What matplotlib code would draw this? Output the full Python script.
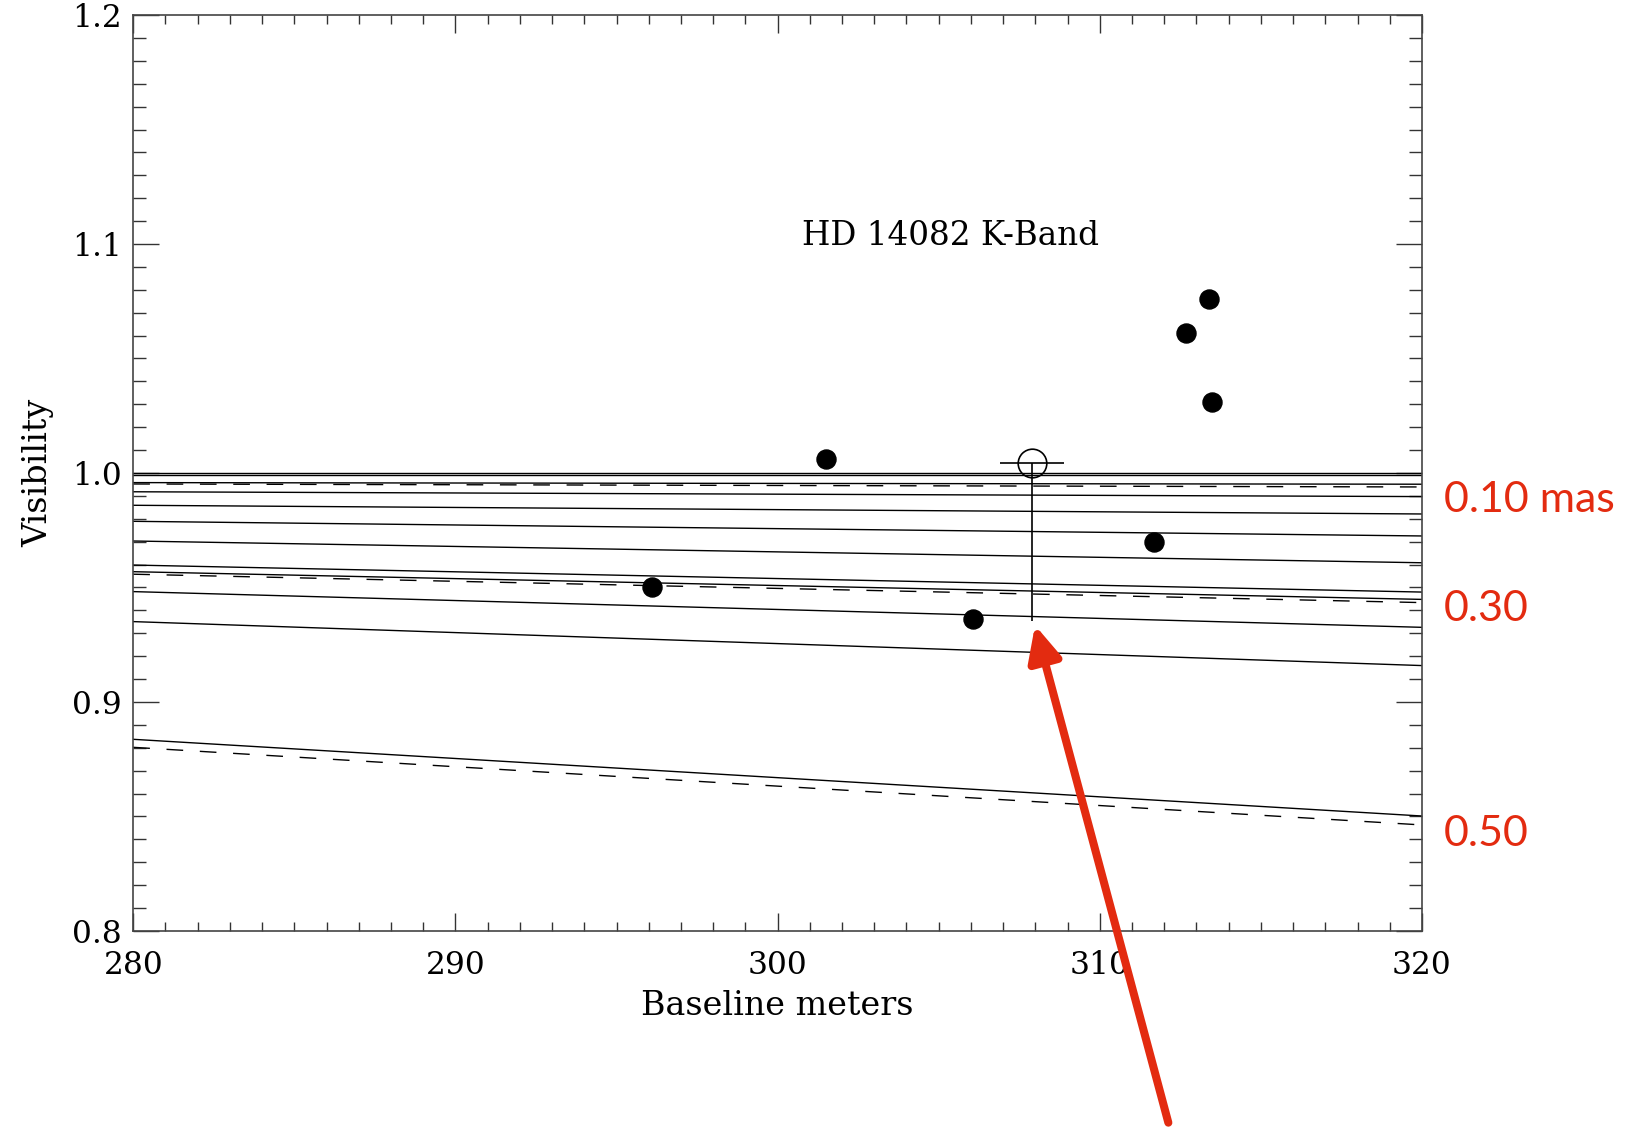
import numpy as np
import matplotlib.pyplot as plt
from matplotlib.ticker import MultipleLocator, FormatStrFormatter

# Modelos de disco uniforme: visibilidad en 280 m y 320 m
baseline_ends = [280, 320]
solid_left = [1.000, 0.999, 0.9958, 0.9918, 0.9859, 0.9789, 0.9703, 0.9598, 0.9569, 0.9482, 0.9351, 0.8837]
solid_right = [1.000, 0.999, 0.9951, 0.9897, 0.9821, 0.9725, 0.9608, 0.9480, 0.9448, 0.9326, 0.9159, 0.8502]
dashed_left = [0.9952, 0.9558, 0.8802]
dashed_right = [0.9939, 0.9434, 0.8463]

# Medidas individuales
obs_baseline = [296.09, 301.50, 306.07, 311.67, 312.67, 313.38, 313.48]
obs_vis = [0.9501, 1.0063, 0.9361, 0.9700, 1.0611, 1.0761, 1.0312]

# Promedio con barra de error
mean_baseline = 307.9
mean_vis = 1.0042
mean_xerr = 1.0
mean_yerr_low = 0.0687

size_labels = ["0.10 mas", "0.30", "0.50"]
size_label_vis = [0.9884, 0.9404, 0.8423]

red = "#e32b10"

fig = plt.figure(figsize=(16.27, 11.37), dpi=100)
ax = fig.add_axes([0.0819, 0.1812, 0.7921, 0.8056])

for a, b in zip(solid_left, solid_right):
    ax.plot(baseline_ends, [a, b], color="black", lw=1.0)
for a, b in zip(dashed_left, dashed_right):
    ax.plot(baseline_ends, [a, b], color="black", lw=1.0, dashes=(12, 12))

ax.plot(obs_baseline, obs_vis, "o", color="black", ms=13.7)
ax.errorbar(mean_baseline, mean_vis, xerr=mean_xerr, yerr=[[mean_yerr_low], [0]],
            fmt="o", mfc="none", mec="black", ms=20.6, mew=1.2,
            ecolor="black", elinewidth=1.2, capsize=0)

ax.set_xlim(280, 320)
ax.set_ylim(0.8, 1.2)
ax.xaxis.set_major_locator(MultipleLocator(10))
ax.xaxis.set_minor_locator(MultipleLocator(1))
ax.yaxis.set_major_locator(MultipleLocator(0.1))
ax.yaxis.set_minor_locator(MultipleLocator(0.01))
ax.yaxis.set_major_formatter(FormatStrFormatter("%.1f"))

ax.tick_params(axis="both", which="both", direction="in", top=True, right=True,
               width=1.0, color="#333333", labelsize=22.5)
ax.tick_params(axis="y", which="major", length=18.5, pad=8)
ax.tick_params(axis="y", which="minor", length=9.4)
ax.tick_params(axis="x", which="major", length=13, pad=14)
ax.tick_params(axis="x", which="minor", length=6.5)
for lab in ax.get_xticklabels() + ax.get_yticklabels():
    lab.set_family("DejaVu Serif")
for s in ax.spines.values():
    s.set_linewidth(1.2)
    s.set_color("#444444")

ax.set_xlabel("Baseline meters", family="DejaVu Serif", fontsize=24)
ax.set_ylabel("Visibility", family="DejaVu Serif", fontsize=24)
ax.xaxis.set_label_coords(0.5, -0.064)
ax.yaxis.set_label_coords(-0.0615, 0.5)

ax.text(305.36, 1.1036, "HD 14082 K-Band", family="DejaVu Serif", fontsize=23.5,
        ha="center", va="center")

for lab, v in zip(size_labels, size_label_vis):
    ax.annotate(lab, xy=(1.0, v), xycoords=("axes fraction", "data"),
                xytext=(16, 0), textcoords="offset points",
                color=red, fontsize=31, family="Lato", ha="left", va="center",
                annotation_clip=False)

ax.annotate("", xy=(307.99, 0.9335), xycoords="data",
            xytext=(0.7181, 0.0126), textcoords="figure fraction",
            arrowprops=dict(arrowstyle="-|>,head_length=0.42,head_width=0.2",
                            mutation_scale=50, lw=5.8, color=red,
                            shrinkA=0, shrinkB=0),
            annotation_clip=False)

plt.savefig("out.png", dpi=100)
